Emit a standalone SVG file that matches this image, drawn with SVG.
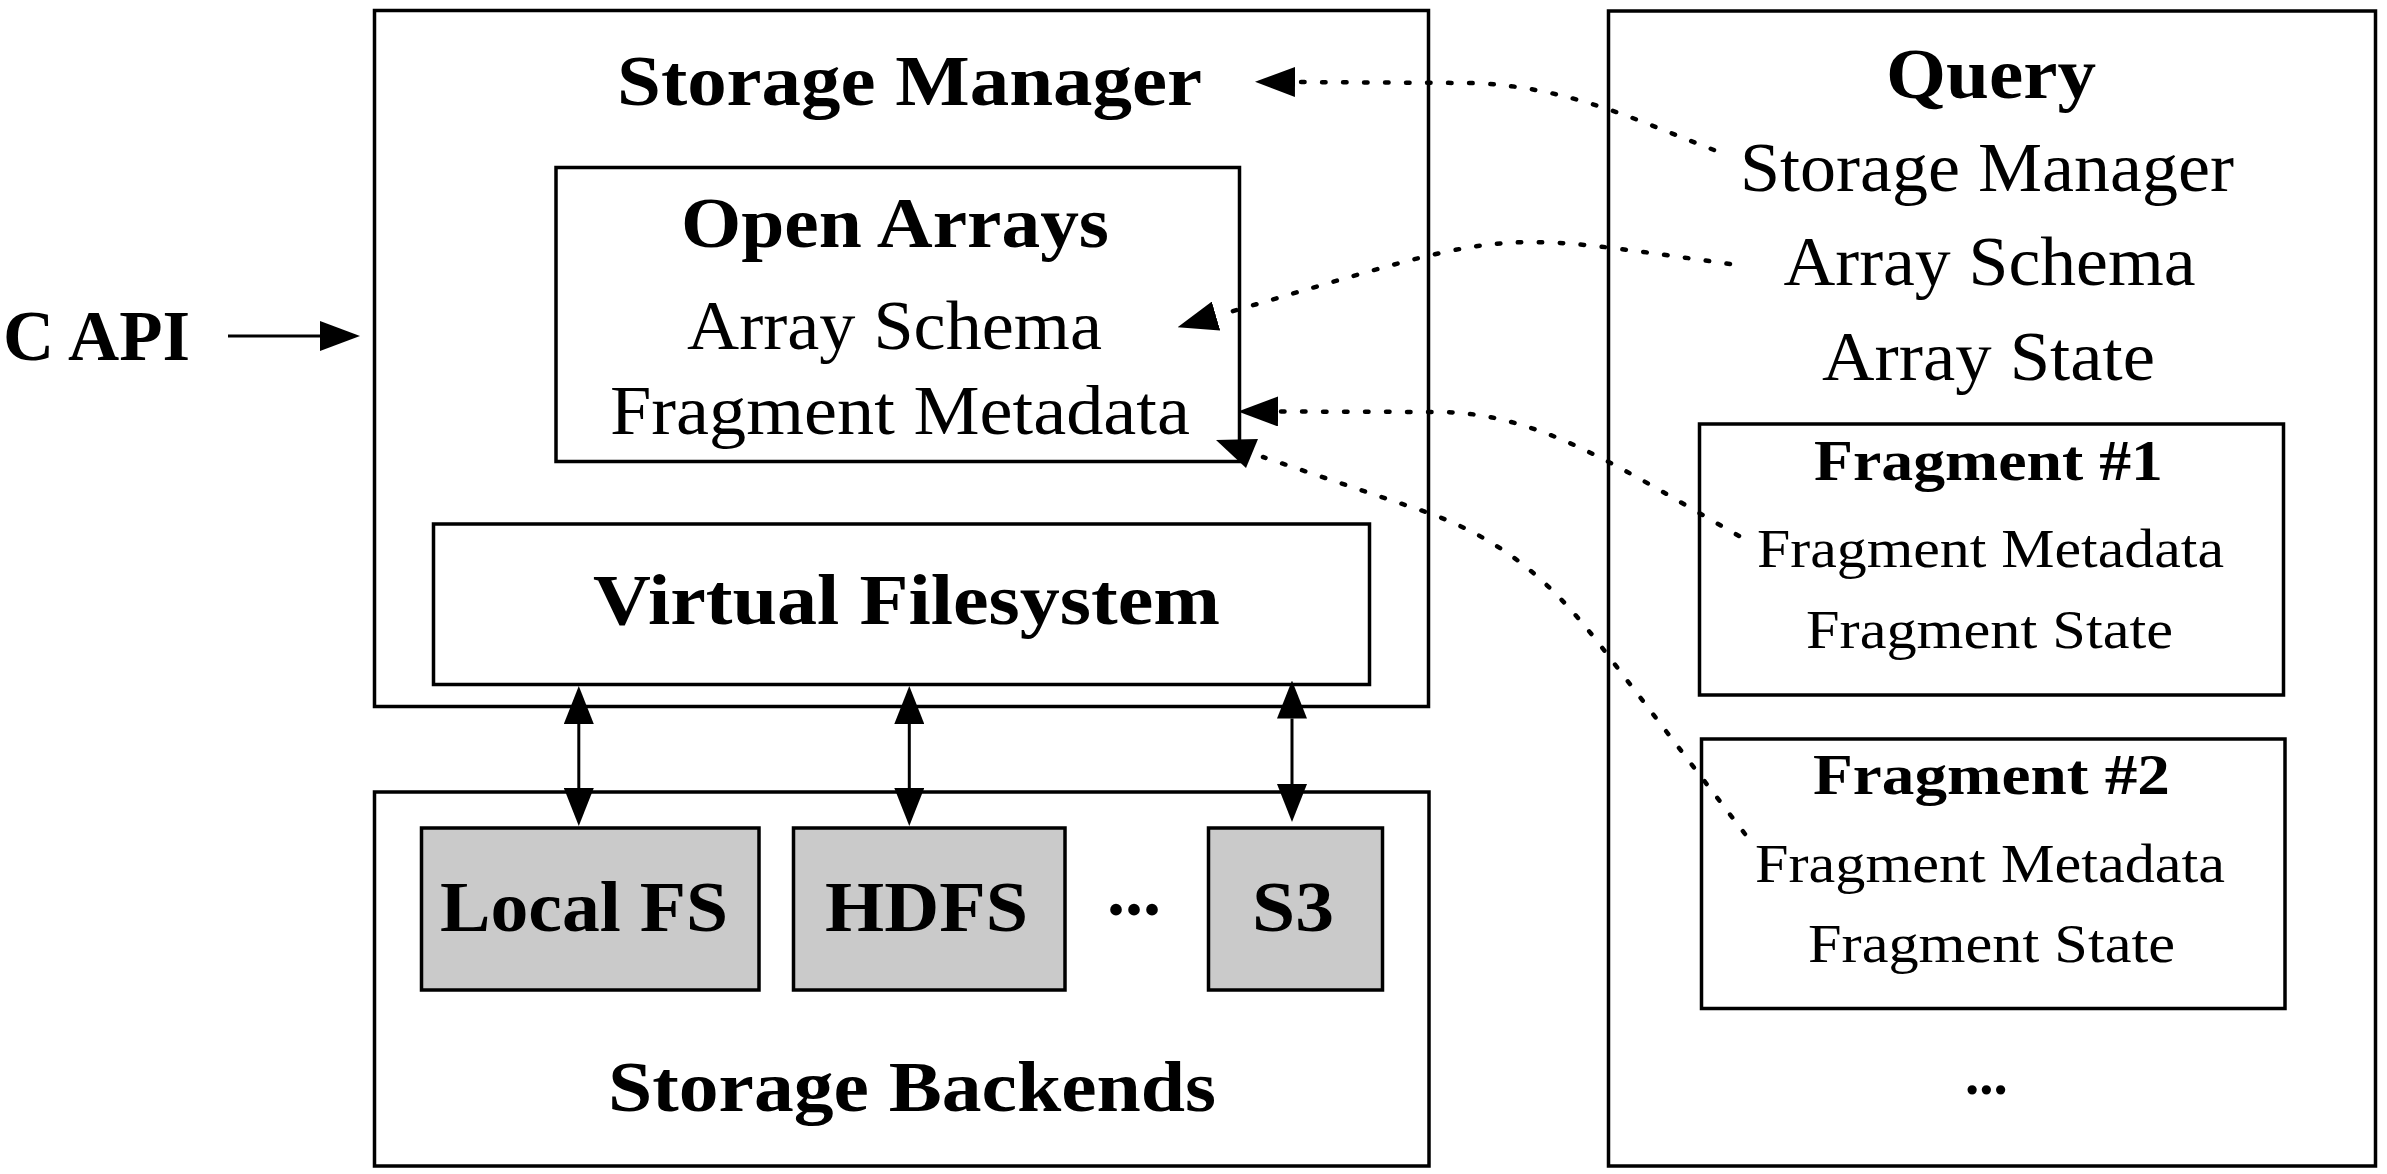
<svg xmlns="http://www.w3.org/2000/svg" width="2387" height="1174" viewBox="0 0 2387 1174">
<defs>
<style>
.box{fill:#fff;stroke:#000;stroke-width:3.5}
.fs{fill:#cacaca;stroke:#000;stroke-width:3.5}
.tb{font-family:"Liberation Serif","Times New Roman",serif;font-weight:bold;font-size:72px;fill:#000}
.tr{font-family:"Liberation Serif","Times New Roman",serif;font-size:70px;fill:#000}
.tbs{font-family:"Liberation Serif","Times New Roman",serif;font-weight:bold;font-size:57px;fill:#000}
.trs{font-family:"Liberation Serif","Times New Roman",serif;font-size:54px;fill:#000}
.dot{fill:none;stroke:#000;stroke-width:4.5;stroke-linecap:round;stroke-dasharray:3.5 17.5}
.solid{fill:none;stroke:#000;stroke-width:3}
</style>
<marker id="ah" markerUnits="userSpaceOnUse" viewBox="0 0 40 30" markerWidth="40" markerHeight="30" refX="0" refY="15" orient="auto">
<path d="M0,0 L40,15 L0,30 z" fill="#000" stroke="none"/>
</marker>
<marker id="av" markerUnits="userSpaceOnUse" viewBox="0 0 38 30" markerWidth="38" markerHeight="30" refX="0" refY="15" orient="auto-start-reverse">
<path d="M0,0 L38,15 L0,30 z" fill="#000" stroke="none"/>
</marker>
</defs>
<rect x="0" y="0" width="2387" height="1174" fill="#fff"/>

<g id="c-api">
<text class="tb" x="3" y="360" textLength="187" lengthAdjust="spacingAndGlyphs">C API</text>
</g>

<g id="storage-manager">
<rect class="box" x="374.5" y="10.5" width="1054" height="696"/>
<text class="tb" x="617" y="105" textLength="585" lengthAdjust="spacingAndGlyphs">Storage Manager</text>
</g>

<g id="open-arrays">
<rect class="box" x="556" y="167.5" width="683.5" height="294"/>
<text class="tb" x="681" y="247" textLength="428" lengthAdjust="spacingAndGlyphs">Open Arrays</text>
<text class="tr" x="687" y="349" textLength="415" lengthAdjust="spacingAndGlyphs">Array Schema</text>
<text class="tr" x="610" y="434" textLength="580" lengthAdjust="spacingAndGlyphs">Fragment Metadata</text>
</g>

<g id="virtual-filesystem">
<rect class="box" x="433.5" y="524" width="936" height="160.5"/>
<text class="tb" x="593" y="624" textLength="627" lengthAdjust="spacingAndGlyphs">Virtual Filesystem</text>
</g>

<g id="storage-backends">
<rect class="box" x="374.5" y="792" width="1054.5" height="374"/>
<text class="tb" x="608" y="1110.5" textLength="608" lengthAdjust="spacingAndGlyphs">Storage Backends</text>
<text class="tb" x="1107" y="914.5" font-size="87">...</text>
</g>

<g id="local-fs">
<rect class="fs" x="421.5" y="828" width="337.5" height="162"/>
<text class="tb" x="440" y="930.5" textLength="288" lengthAdjust="spacingAndGlyphs">Local FS</text>
</g>

<g id="hdfs">
<rect class="fs" x="793.5" y="828" width="271.5" height="162"/>
<text class="tb" x="825" y="930.5" textLength="203" lengthAdjust="spacingAndGlyphs">HDFS</text>
</g>

<g id="s3">
<rect class="fs" x="1208.5" y="828" width="174" height="162"/>
<text class="tb" x="1252" y="930.5" textLength="82" lengthAdjust="spacingAndGlyphs">S3</text>
</g>

<g id="query">
<rect class="box" x="1608.5" y="11" width="767" height="1155"/>
<text class="tb" x="1886" y="97.5" textLength="210" lengthAdjust="spacingAndGlyphs">Query</text>
<text class="tr" x="1740" y="191" textLength="494" lengthAdjust="spacingAndGlyphs">Storage Manager</text>
<text class="tr" x="1783.5" y="284.5" textLength="412" lengthAdjust="spacingAndGlyphs">Array Schema</text>
<text class="tr" x="1822" y="380" textLength="333" lengthAdjust="spacingAndGlyphs">Array State</text>
<text class="tbs" x="1965" y="1093.5" font-size="68">...</text>
</g>

<g id="fragment-1">
<rect class="box" x="1699.5" y="424" width="584" height="271"/>
<text class="tbs" x="1814" y="479.5" textLength="349" lengthAdjust="spacingAndGlyphs">Fragment #1</text>
<text class="trs" x="1757" y="567" textLength="467" lengthAdjust="spacingAndGlyphs">Fragment Metadata</text>
<text class="trs" x="1806" y="647.5" textLength="367" lengthAdjust="spacingAndGlyphs">Fragment State</text>
</g>

<g id="fragment-2">
<rect class="box" x="1701.5" y="739" width="583.5" height="269.5"/>
<text class="tbs" x="1813" y="793.5" textLength="357" lengthAdjust="spacingAndGlyphs">Fragment #2</text>
<text class="trs" x="1755" y="881.5" textLength="470" lengthAdjust="spacingAndGlyphs">Fragment Metadata</text>
<text class="trs" x="1808" y="962" textLength="367" lengthAdjust="spacingAndGlyphs">Fragment State</text>
</g>

<g id="connectors">
<path class="solid" d="M228,336 L320,336" marker-end="url(#ah)"/>
<path class="solid" d="M578.8,724 L578.8,788" marker-start="url(#av)" marker-end="url(#av)"/>
<path class="solid" d="M909.3,724 L909.3,788" marker-start="url(#av)" marker-end="url(#av)"/>
<path class="solid" d="M1292,718.5 L1292,784" marker-start="url(#av)" marker-end="url(#av)"/>
<path class="dot" d="M1714,150 C1640,122 1570,86 1470,83 L1295,82" marker-end="url(#ah)"/>
<path class="dot" d="M1730,264 C1480,229 1516,229 1216,316" marker-end="url(#ah)"/>
<path class="dot" d="M1739,536 C1620,468 1540,413 1440,412 L1278,411.5" marker-end="url(#ah)"/>
<path class="dot" d="M1745,834 L1600,645 C1550,580 1500,537 1420,510 L1263,457"/>
<polygon points="1216,440 1258,439 1246,468" fill="#000"/>
</g>
</svg>
